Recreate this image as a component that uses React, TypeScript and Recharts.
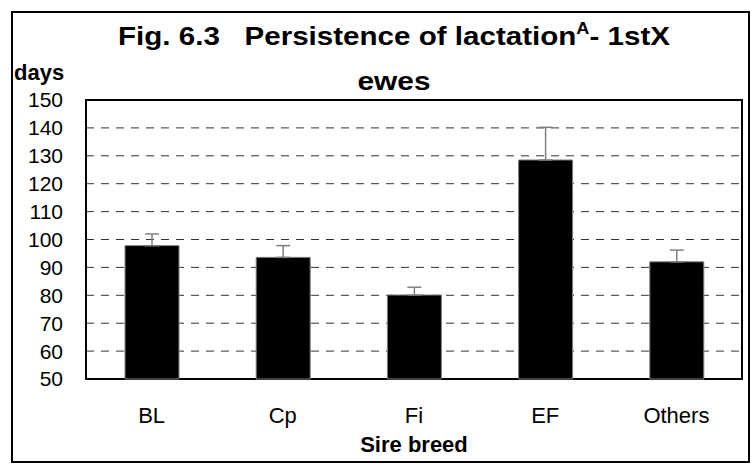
import { BarChart, Bar, XAxis, YAxis, CartesianGrid, ErrorBar, ReferenceArea, Label } from "recharts";

const breeds = ["BL", "Cp", "Fi", "EF", "Others"];
const persistence = [97.8, 93.6, 80.1, 128.5, 92.0];
const upperError = [4.2, 4.2, 2.8, 11.7, 4.2];
const yTicks = [50, 60, 70, 80, 90, 100, 110, 120, 130, 140, 150];

const data = breeds.map((breed, i) => ({
  breed,
  days: persistence[i],
  err: [0, upperError[i]],
}));

const font = "'Liberation Sans', Arial, sans-serif";

const App = () => {
  return (
    <div style={{ position: "absolute", left: 0, top: 0, width: 751, height: 464, background: "#fff", fontFamily: font }}>
      <div
        style={{
          position: "absolute",
          left: 11,
          top: 11,
          width: 739,
          height: 452,
          border: "2px solid #000",
          boxSizing: "border-box",
        }}
      />
      <BarChart
        width={751}
        height={464}
        data={data}
        margin={{ top: 100, right: 9, left: 0, bottom: 0 }}
        style={{ position: "absolute", left: 0, top: 0 }}
      >
        <CartesianGrid vertical={false} stroke="#333" strokeDasharray="8 7" />
        <XAxis
          dataKey="breed"
          height={85}
          axisLine={false}
          tickLine={false}
          tickSize={0}
          tickMargin={28}
          tick={{ fill: "#000", fontSize: 22, fontFamily: font }}
        >
          <Label
            value="Sire breed"
            position="insideBottom"
            offset={12}
            style={{ fill: "#000", fontSize: 22, fontWeight: "bold", fontFamily: font }}
          />
        </XAxis>
        <YAxis
          width={86}
          domain={[50, 150]}
          ticks={yTicks}
          interval={0}
          axisLine={false}
          tickLine={false}
          tickSize={0}
          tickMargin={23}
          tick={{ fill: "#000", fontSize: 21, fontFamily: font }}
        />
        <Bar dataKey="days" fill="#000" stroke="#808080" strokeWidth={1} barSize={54} isAnimationActive={false}>
          <ErrorBar dataKey="err" width={7} stroke="#808080" strokeWidth={1.5} isAnimationActive={false} />
        </Bar>
        <ReferenceArea y1={50} y2={150} fill="none" stroke="#000" strokeWidth={2} fillOpacity={0} />
        <text
          x={394}
          y={45}
          textAnchor="middle"
          fontSize={26}
          fontWeight="bold"
          fontFamily={font}
          fill="#000"
          textLength={552}
          lengthAdjust="spacingAndGlyphs"
          style={{ whiteSpace: "pre" }}
        >
          Fig. 6.3   Persistence of lactation
          <tspan dy={-11} fontSize={16}>A</tspan>
          <tspan dy={11}>- 1stX</tspan>
        </text>
        <text
          x={394}
          y={90}
          textAnchor="middle"
          fontSize={26}
          fontWeight="bold"
          fontFamily={font}
          fill="#000"
          textLength={73}
          lengthAdjust="spacingAndGlyphs"
        >
          ewes
        </text>
        <text x={14} y={80} fontSize={22} fontWeight="bold" fontFamily={font} fill="#000">
          days
        </text>
      </BarChart>
    </div>
  );
};

export default App;
